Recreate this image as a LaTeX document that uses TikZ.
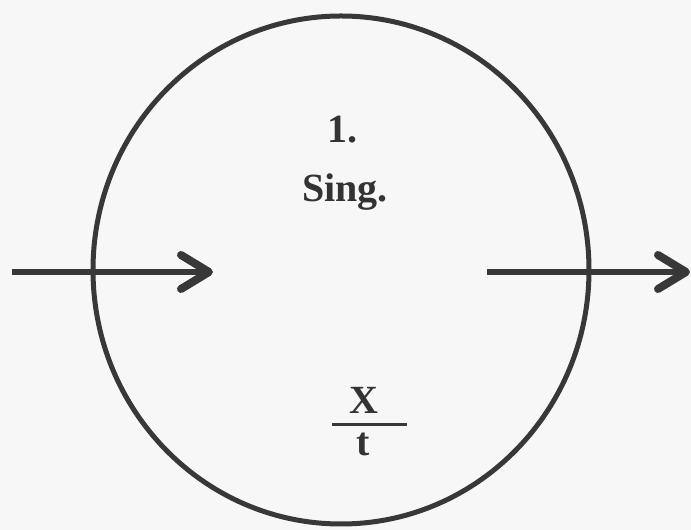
\documentclass[tikz,border=0pt]{standalone}
\usepackage{fontspec}
\setmainfont{Liberation Serif}
\usetikzlibrary{arrows.meta}
\begin{document}
\begin{tikzpicture}[x=1pt,y=1pt,
  ink/.style={draw=black!78},
  lbl/.style={font=\fontsize{40}{44}\selectfont\bfseries, text=black!80, inner sep=0pt},
  flow/.style={ink, line width=6pt, -{Straight Barb[length=28pt,width=34pt,line width=8pt,line join=round,line cap=round]}}]
\useasboundingbox (0,0) rectangle (691,530);
\fill[black!3] (0,0) rectangle (691,530);
\draw[ink, line width=5pt] (341,260) ellipse [x radius=248, y radius=254];
\node[lbl] (one) at (342,400) {1.};
\node[lbl] (sing) at (345,338) {Sing.};
\node[lbl] (x) at (364,130) {X};
\node[lbl] (t) at (363,86) {t};
\coordinate (fl) at (332,105);
\coordinate (fr) at (407,105);
\draw[ink, line width=3pt] (fl) -- (fr);
\coordinate (a1) at (12,258);
\coordinate (a2) at (213,258);
\coordinate (b1) at (487,258);
\coordinate (b2) at (690,258);
\draw[flow] (a1) -- (a2);
\draw[flow] (b1) -- (b2);
\end{tikzpicture}
\end{document}
